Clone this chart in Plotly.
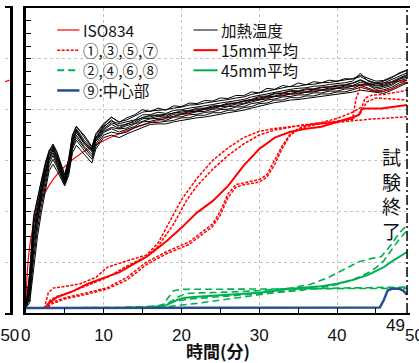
import plotly.graph_objects as go

# ---------------- data ----------------
ISO_T = [0, 0.1, 0.25, 0.5, 1, 1.5, 2, 3, 4, 5, 6, 7, 8, 10, 12, 15, 20, 25, 30, 35, 40, 45, 49]
ISO_V = [20, 108, 185, 261, 349, 404, 445, 502, 544, 576, 603, 626, 645, 678, 705, 739, 781, 815, 842, 865, 885, 902, 915]

HEAT_T = [0, 0.5, 1, 1.5, 2, 2.5, 3, 3.5, 4, 5, 5.5, 6, 6.5, 7.5, 8.5, 9, 10,
          11, 12, 13, 14, 15, 16, 17, 18, 19, 20, 21, 22, 23, 24, 25, 26, 27, 28, 29, 30,
          31, 32, 33, 34, 35, 36, 37, 38, 39, 40, 41, 42, 43, 44, 45, 46, 47, 48, 49]
HEAT_1 = [20, 150, 380, 450, 530, 590, 640, 660, 630, 540, 600, 700, 735, 690, 650, 700, 740,
          770, 752, 760, 775, 790, 795, 796, 800, 806, 810, 818, 820, 826, 830, 836, 840, 846, 850, 860, 866,
          874, 880, 884, 892, 892, 898, 900, 906, 907, 912, 915, 922, 935, 922, 912, 915, 928, 942, 955]
HEAT_2 = [20, 130, 350, 430, 510, 575, 630, 655, 620, 530, 590, 690, 725, 680, 645, 690, 735,
          755, 745, 752, 760, 780, 780, 790, 785, 797, 800, 806, 810, 816, 820, 826, 830, 836, 840, 850, 856,
          864, 870, 876, 880, 884, 886, 892, 894, 899, 902, 906, 912, 944, 912, 902, 905, 918, 932, 945]
HEAT_3 = [20, 110, 320, 410, 495, 560, 620, 650, 610, 525, 580, 680, 715, 670, 640, 685, 725,
          748, 738, 742, 758, 768, 778, 778, 782, 786, 796, 796, 806, 806, 815, 816, 826, 826, 835, 840, 852,
          854, 865, 866, 875, 874, 882, 882, 889, 890, 896, 898, 905, 918, 905, 896, 900, 910, 925, 938]
HEAT_4 = [20, 100, 300, 395, 480, 550, 610, 640, 600, 520, 575, 670, 710, 665, 635, 680, 720,
          742, 726, 738, 746, 764, 766, 774, 770, 782, 784, 792, 794, 801, 804, 812, 814, 822, 824, 836, 840,
          850, 854, 862, 864, 870, 870, 878, 878, 885, 885, 893, 895, 908, 900, 886, 892, 900, 920, 928]
HEAT_5 = [20, 80, 270, 375, 460, 535, 600, 630, 590, 515, 565, 660, 700, 655, 625, 675, 715,
          730, 724, 728, 744, 754, 764, 766, 768, 774, 782, 784, 792, 793, 802, 804, 812, 814, 822, 828, 838,
          842, 852, 854, 862, 862, 868, 870, 876, 877, 883, 885, 893, 900, 896, 880, 886, 895, 914, 922]
HEAT_6 = [20, 70, 240, 355, 445, 520, 590, 620, 585, 510, 560, 655, 690, 650, 615, 665, 710,
          725, 712, 724, 734, 752, 754, 762, 758, 770, 772, 780, 782, 789, 792, 800, 802, 810, 812, 824, 828,
          838, 842, 850, 852, 858, 858, 866, 866, 873, 873, 881, 883, 896, 886, 874, 878, 888, 905, 916]
HEAT_7 = [20, 55, 210, 330, 420, 500, 575, 605, 575, 505, 550, 645, 680, 640, 605, 655, 700,
          712, 705, 712, 730, 740, 750, 750, 754, 758, 768, 768, 778, 778, 788, 788, 798, 798, 808, 812, 824,
          826, 838, 838, 848, 846, 854, 854, 862, 862, 870, 870, 878, 888, 880, 870, 872, 882, 898, 908]
HEAT_8 = [20, 160, 370, 445, 520, 580, 635, 665, 635, 545, 605, 700, 733, 700, 655, 705, 745,
          771, 750, 768, 780, 800, 792, 806, 798, 815, 812, 826, 824, 836, 834, 846, 844, 856, 855, 870, 866,
          884, 880, 895, 890, 905, 898, 910, 906, 916, 912, 922, 920, 930, 915, 905, 912, 925, 945, 956]
HEAT_9 = [20, 40, 170, 300, 395, 480, 560, 585, 560, 500, 540, 630, 660, 625, 590, 645, 690,
          700, 690, 705, 718, 732, 742, 744, 744, 752, 758, 762, 768, 771, 778, 782, 788, 792, 798, 806, 814,
          820, 828, 832, 838, 840, 844, 848, 852, 855, 859, 863, 869, 877, 872, 866, 864, 876, 892, 905]
HEAT_10 = [20, 90, 290, 390, 470, 545, 605, 645, 615, 530, 580, 675, 720, 672, 640, 688, 730,
           760, 730, 745, 752, 770, 772, 780, 775, 788, 790, 796, 800, 805, 810, 815, 822, 825, 832, 840, 846,
           852, 862, 864, 872, 872, 878, 880, 886, 888, 892, 896, 903, 915, 902, 893, 895, 906, 922, 935]

# 15 mm thermocouples (dashed red) and their average
R1_T = [0, 2.4, 2.9, 3.5, 5, 7, 9, 10.5, 13, 15.5, 17, 18.5, 20, 22, 24, 26, 28, 30, 32, 34, 36, 38, 40, 42, 44, 46, 48, 49]
R1_V = [20, 20, 80, 98, 104, 115, 140, 180, 205, 228, 275, 360, 445, 530, 600, 650, 690, 715, 726, 733, 740, 745, 750, 757, 762, 766, 770, 772]
R2_T = [0, 2.6, 3.1, 4, 6, 8, 10.5, 13, 15.5, 17, 19, 20.7, 22, 24, 26, 28, 30, 32, 34, 36, 38, 40, 42, 42.4, 43, 44.5, 45.7, 47.5, 49]
R2_V = [20, 20, 50, 65, 85, 110, 140, 185, 222, 262, 350, 445, 500, 565, 620, 665, 700, 720, 732, 742, 748, 755, 762, 838, 890, 877, 870, 884, 915]
R3_T = [0, 2.7, 3.2, 5, 8, 10.5, 13, 15.5, 18, 21, 24, 25, 26, 27, 28, 30, 31, 32, 33, 34, 35, 36, 38, 40, 42, 43.2, 43.6, 44.5, 46, 48, 49]
R3_V = [20, 20, 40, 60, 80, 100, 140, 200, 240, 280, 350, 400, 470, 505, 512, 525, 545, 600, 660, 705, 725, 738, 750, 765, 790, 811, 845, 857, 860, 870, 877]
R4_T = [0, 2.8, 3.3, 5, 8, 10.5, 13, 15.5, 18, 21, 24, 25, 26, 27, 28, 30, 31, 32, 33, 34, 35, 36, 38, 40, 42, 43, 43.8, 45, 47, 49]
R4_V = [20, 20, 35, 55, 75, 95, 130, 190, 232, 270, 340, 385, 455, 495, 505, 515, 535, 585, 650, 700, 722, 733, 745, 752, 765, 785, 830, 846, 842, 838]
R_AVG_T = [0, 2.5, 3, 4, 6, 8, 10, 12, 14, 15.5, 18, 20, 22, 24, 26, 28, 30, 32, 34, 36, 38, 40, 42, 42.8, 43.2, 45.7, 47, 49]
R_AVG_V = [20, 20, 40, 62, 85, 115, 138, 160, 195, 221, 280, 335, 395, 440, 500, 580, 645, 690, 713, 725, 733, 750, 770, 779, 805, 805, 810, 818]

# 45 mm thermocouples (dashed green) and their average
G1_T = [0, 12, 15, 17.5, 18.3, 19, 20, 25, 30, 35, 40, 45, 49]
G1_V = [20, 20, 22, 28, 60, 88, 93, 93, 94, 95, 96, 97, 97]
G2_T = [0, 12, 16, 18, 19.5, 20.5, 22, 26, 30, 34, 36.5, 38.7, 40.5, 42.8, 44.5, 45.7, 47, 48, 49]
G2_V = [20, 20, 24, 32, 62, 76, 79, 82, 88, 98, 112, 137, 165, 202, 215, 222, 270, 315, 345]
G3_T = [0, 12, 17, 19, 21, 25, 30, 35, 38, 40, 42, 43, 44, 45, 46, 47, 48, 49]
G3_V = [20, 20, 28, 45, 55, 64, 74, 88, 100, 112, 130, 143, 158, 178, 205, 248, 290, 325]
G4_T = [0, 12, 18, 20, 22, 26, 30, 35.4, 40, 45, 49]
G4_V = [20, 20, 24, 30, 38, 55, 72, 94, 98, 100, 102]
G_AVG_T = [0, 12, 16, 18, 19.5, 20.5, 22, 26, 30, 34, 38, 40, 42, 44, 46, 47, 48, 49]
G_AVG_V = [20, 20, 23, 30, 52, 60, 64, 72, 80, 95, 105, 115, 130, 150, 180, 202, 222, 240]

# center (⑨)
C_T = [0, 45.5, 46, 46.5, 47, 48, 48.5, 49]
C_V = [20, 22, 50, 88, 95, 95, 88, 72]

# left (neighbouring) panel: end of ISO834 curve
LEFT_T = [48, 49, 50]
LEFT_V = [910, 913, 916]

END_TIME = 49
X_TICKS = [0, 10, 20, 30, 40]
X_TICK_TEXT = ["0", "10", "20", "30", "40"]

LEGEND_1 = ["ISO834", "①,③,⑤,⑦", "②,④,⑥,⑧", "⑨:中心部"]
LEGEND_2 = ["加熱温度", "15mm平均", "45mm平均"]

# ---------------- styles ----------------
RED = "#ff0000"
GREEN = "#00b050"
BLUE = "#2a4e8c"
JP = "Noto Sans CJK JP, Liberation Sans, sans-serif"
NUM = "Liberation Sans, Arial, sans-serif"
W, H = 419, 363
ML, MT, MB = 0, 8, 50
PX_PER_MIN = 8.05
X0_PX = 21.5
LEG_FONT = 15.5
LEG_STEP = 1.3 * LEG_FONT

fig = go.Figure()

def add(x, y, color, width, dash="solid", shape="linear", xa="x", ya="y"):
    fig.add_trace(go.Scatter(x=x, y=y, mode="lines", xaxis=xa, yaxis=ya,
                             line=dict(color=color, width=width, dash=dash, shape=shape),
                             hoverinfo="skip", showlegend=False))

# left panel
add(LEFT_T, LEFT_V, RED, 1.2, xa="x2", ya="y2")

# main panel
add(ISO_T, ISO_V, RED, 1.2, shape="spline")
for h in [HEAT_1, HEAT_2, HEAT_3, HEAT_4, HEAT_5, HEAT_6, HEAT_7, HEAT_8, HEAT_9, HEAT_10]:
    add(HEAT_T, h, "black", 1)
RDASH = "3px,1.5px"
GDASH = "7px,4px"
for t, v in [(R1_T, R1_V), (R2_T, R2_V), (R3_T, R3_V), (R4_T, R4_V)]:
    add(t, v, RED, 1.5, dash=RDASH)
add(R_AVG_T, R_AVG_V, RED, 2)
for t, v in [(G1_T, G1_V), (G2_T, G2_V), (G3_T, G3_V), (G4_T, G4_V)]:
    add(t, v, GREEN, 1.6, dash=GDASH)
add(G_AVG_T, G_AVG_V, GREEN, 2)
add(C_T, C_V, BLUE, 2.5)

x_right = (W - X0_PX) / PX_PER_MIN

grid = dict(showgrid=True, gridcolor="#c4c4c4", griddash="dot", gridwidth=1)
fig.update_layout(
    width=W, height=H, margin=dict(l=ML, r=0, t=MT, b=MB),
    paper_bgcolor="white", plot_bgcolor="white", showlegend=False,
    xaxis=dict(domain=[X0_PX / W, 1], range=[0, x_right], tickvals=X_TICKS, ticktext=X_TICK_TEXT,
               ticks="inside", ticklen=5, tickwidth=1, tickcolor="black",
               minor=dict(dtick=5, ticks="inside", ticklen=5, tickcolor="black", showgrid=False),
               showline=True, linecolor="black", linewidth=2, mirror=True, zeroline=False,
               tickfont=dict(family=NUM, size=17, color="#111"), ticklabelstandoff=6,
               title=dict(text="<b>時間(分)</b>", font=dict(family=JP, size=17, color="#111"), standoff=2),
               **grid),
    yaxis=dict(domain=[0, 1], range=[0, 1200], dtick=200, tick0=0,
               ticks="inside", ticklen=5, tickcolor="black", showticklabels=False,
               minor=dict(dtick=50, ticks="inside", ticklen=5, tickcolor="black", showgrid=False),
               showline=True, linecolor="black", linewidth=2.5, zeroline=False, **grid),
    xaxis2=dict(domain=[0, 5 / W], range=[48, 50], tickvals=[50], ticktext=["50"], anchor="y2",
                ticks="", showline=True, linecolor="black", linewidth=2, mirror=True,
                showgrid=False, zeroline=False, ticklabeloverflow="allow",
                tickfont=dict(family=NUM, size=17, color="#111"), ticklabelstandoff=6),
    yaxis2=dict(domain=[0, 1], range=[0, 1200], dtick=200, anchor="x2", side="right",
                showticklabels=False, ticks="", showline=True, linecolor="black", linewidth=2.5,
                zeroline=False, **grid),
)

# test end marker
fig.add_shape(type="line", xref="x", yref="paper", x0=END_TIME, x1=END_TIME, y0=0, y1=1,
              line=dict(color="black", width=1.5, dash="10px,3px,2px,3px"))
fig.add_annotation(x=47.0, y=472, xref="x", yref="y", text="試<br>験<br>終<br>了", showarrow=False,
                   xanchor="center", yanchor="middle", font=dict(family=JP, size=19, color="#111"))
fig.add_annotation(x=END_TIME, y=0, xref="x", yref="paper", text="49", showarrow=False,
                   xanchor="center", yanchor="middle", xshift=-12, yshift=-12,
                   font=dict(family=NUM, size=17, color="#111"))
fig.add_annotation(x=424 / W, y=0, xref="paper", yref="paper", text="50", showarrow=False,
                   xanchor="center", yanchor="middle", yshift=-22,
                   font=dict(family=NUM, size=17, color="#111"))

# manual legend (two columns)
plot_h = H - MT - MB
def py(ypx):
    return (H - MB - ypx) / plot_h

leg1_styles = [dict(color=RED, width=1.2), dict(color=RED, width=1.5, dash=RDASH),
               dict(color=GREEN, width=2, dash=GDASH), dict(color=BLUE, width=2.5)]
leg2_styles = [dict(color="black", width=1), dict(color=RED, width=2), dict(color=GREEN, width=2)]
for i, st in enumerate(leg1_styles):
    yy = py(30 + LEG_STEP * i)
    fig.add_shape(type="line", xref="paper", yref="paper", x0=54 / W, x1=77 / W, y0=yy, y1=yy, line=st)
for i, st in enumerate(leg2_styles):
    yy = py(30 + LEG_STEP * i)
    fig.add_shape(type="line", xref="paper", yref="paper", x0=195 / W, x1=220 / W, y0=yy, y1=yy, line=st)
fig.add_annotation(x=79 / W, y=py(30 + LEG_STEP * 1.5), xref="paper", yref="paper",
                   text="<br>".join(LEGEND_1), showarrow=False, align="left",
                   xanchor="left", yanchor="middle", font=dict(family=JP, size=LEG_FONT, color="#111"))
fig.add_annotation(x=221 / W, y=py(30 + LEG_STEP * 1.0), xref="paper", yref="paper",
                   text="<br>".join(LEGEND_2), showarrow=False, align="left",
                   xanchor="left", yanchor="middle", font=dict(family=JP, size=LEG_FONT, color="#111"))

fig.write_html("out.html", config={"displayModeBar": False},
               post_script="document.body.style.margin='0';document.body.style.overflow='hidden';")
